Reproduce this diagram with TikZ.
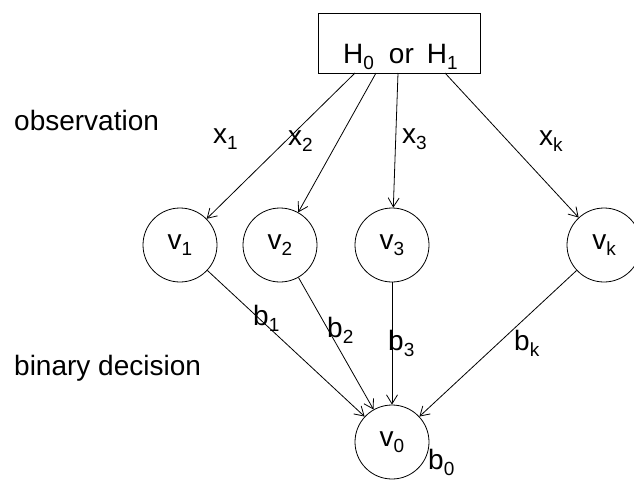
\documentclass[tikz,border=0pt]{standalone}
\usepackage{fontspec}
\setmainfont{Liberation Sans}
\usetikzlibrary{arrows.meta}
\newcommand{\lsb}[1]{\raisebox{-0.42ex}{\fontsize{19}{19}\selectfont #1}}
\begin{document}
\begin{tikzpicture}[x=1pt,y=-1pt,
  every node/.style={font=\fontsize{28}{30}\selectfont, inner sep=0pt},
  unit/.style={draw, circle, minimum size=74pt, line width=0.8pt},
  hbox/.style={draw, rectangle, minimum width=162pt, minimum height=60pt, line width=0.8pt},
  lab/.style={anchor=base west},
  edge/.style={-{Straight Barb[length=9pt,width=11pt,line width=0.8pt]}, line width=0.8pt}]
\useasboundingbox (0,0) rectangle (634,480);
\node[hbox] (H) at (399,43) {};
\node[lab] (Ht) at (343,63) {H\lsb{0}\hspace{15pt}or\hspace{13pt}H\lsb{1}};
\node[unit] (v1) at (180,245) {v\lsb{1}};
\node[unit] (v2) at (280,245) {v\lsb{2}};
\node[unit] (v3) at (392,245) {v\lsb{3}};
\node[unit] (vk) at (604,245) {v\lsb{k}};
\node[unit] (v0) at (392,442) {v\lsb{0}};
\coordinate (s1) at (355,73);
\coordinate (s2) at (376,73);
\coordinate (s3) at (398,73);
\coordinate (sk) at (445,73);
\draw[edge] (s1) -- (v1);
\draw[edge] (s2) -- (v2);
\draw[edge] (s3) -- (v3);
\draw[edge] (sk) -- (vk);
\draw[edge] (v1) -- (v0);
\draw[edge] (v2) -- (v0);
\draw[edge] (v3) -- (v0);
\draw[edge] (vk) -- (v0);
\node[lab] (obs) at (14,130) {observation};
\node[lab] (bd) at (14,375) {binary decision};
\node[lab] (x1) at (213,143) {x\lsb{1}};
\node[lab] (x2) at (288,145) {x\lsb{2}};
\node[lab] (x3) at (402,143) {x\lsb{3}};
\node[lab] (xk) at (539,145) {x\lsb{k}};
\node[lab] (b1) at (253,325) {b\lsb{1}};
\node[lab] (b2) at (327,337) {b\lsb{2}};
\node[lab] (b3) at (388,350) {b\lsb{3}};
\node[lab] (bk) at (514,350) {b\lsb{k}};
\node[lab] (b0) at (428,469) {b\lsb{0}};
\end{tikzpicture}
\end{document}
